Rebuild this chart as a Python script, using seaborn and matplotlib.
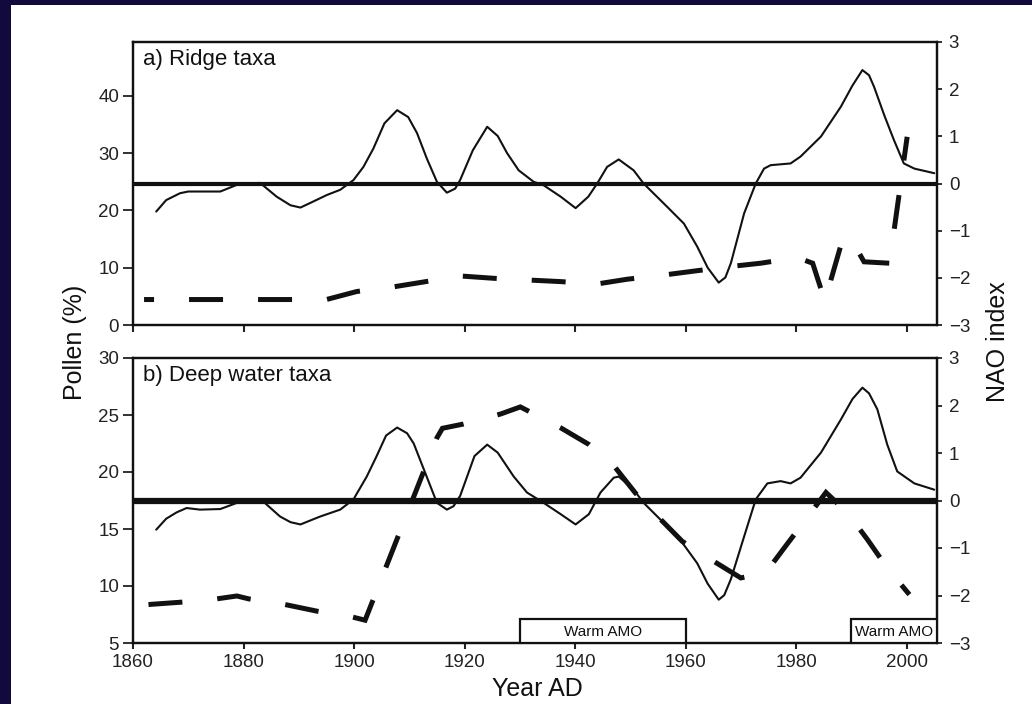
import matplotlib
matplotlib.use("Agg")
import matplotlib.pyplot as plt
from matplotlib.patches import Rectangle
import seaborn as sns

# a) Ridge taxa, pollen %
ridge_years = [1864.2, 1866, 1868.5, 1870, 1875.8, 1879.4, 1883, 1886, 1888.5, 1890.3,
               1892.5, 1895.1, 1897.5, 1899.9, 1901.7, 1903.5, 1905.5, 1907.8, 1909.8, 1911.4,
               1913.2, 1915.0, 1916.8, 1918.3, 1919.2, 1921.5, 1924.1, 1926.0, 1927.7, 1929.8,
               1932.5, 1934.3, 1937.4, 1940.1, 1942.4, 1944.0, 1945.8, 1947.9, 1950.6, 1952.4,
               1956.7, 1959.7, 1962.1, 1964.0, 1966.0, 1967.2, 1968.2, 1970.6, 1972.7, 1974.2,
               1975.4, 1979.0, 1980.8, 1984.5, 1988.1, 1990.2, 1992.0, 1993.2, 1994.1, 1996.0,
               1997.7, 1999.5, 2001.4, 2005.0]
ridge_pollen = [19.8, 21.8, 23.0, 23.3, 23.3, 24.7, 24.8, 22.4, 20.9, 20.5,
                21.5, 22.7, 23.6, 25.3, 27.6, 30.8, 35.2, 37.5, 36.3, 33.5,
                29.0, 25.0, 23.1, 23.8, 25.3, 30.5, 34.6, 33.0, 30.0, 27.0,
                25.0, 24.4, 22.4, 20.4, 22.4, 24.7, 27.6, 28.9, 27.0, 24.7,
                20.6, 17.7, 13.7, 10.0, 7.4, 8.3, 10.8, 19.5, 24.7, 27.3,
                27.9, 28.2, 29.4, 32.9, 38.1, 41.8, 44.5, 43.6, 41.6, 36.5,
                32.3, 28.2, 27.3, 26.5]

# a) NAO index (dashed)
nao_a_years = [1862, 1895, 1900.5, 1907.2, 1913, 1919.2, 1925.3, 1937.4, 1944, 1949.4,
               1956.1, 1962, 1968.1, 1973.6, 1980.2, 1983, 1985.2, 1988.5, 1990.2, 1992.3,
               1996.9, 2000.1]
nao_a = [-2.46, -2.46, -2.29, -2.19, -2.08, -1.96, -2.01, -2.08, -2.13, -2.03,
         -1.94, -1.85, -1.76, -1.69, -1.57, -1.69, -2.49, -1.15, -1.23, -1.66,
         -1.69, 0.99]

# b) Deep water taxa, pollen %
deep_years = [1864.2, 1866, 1867.9, 1869.7, 1872.1, 1875.8, 1879.4, 1883.6, 1886.6, 1888.5,
              1890.3, 1893.9, 1897.5, 1899.9, 1902.3, 1904, 1905.8, 1907.8, 1909.6, 1910.8,
              1912.9, 1915.0, 1916.8, 1918, 1919.2, 1921.8, 1924.1, 1926, 1928.9, 1931.3,
              1934.3, 1937.4, 1940.1, 1942.5, 1944.6, 1947, 1947.9, 1950.6, 1952.4, 1955.5,
              1959.4, 1962.1, 1964, 1966, 1967, 1968.2, 1970.6, 1972.7, 1974.8, 1977.2,
              1979, 1980.8, 1984.5, 1988.1, 1990.2, 1992, 1993.2, 1994.7, 1996.5, 1998.3,
              2001.4, 2005]
deep_pollen = [14.94, 15.9, 16.46, 16.84, 16.7, 16.75, 17.4, 17.4, 16.1, 15.6,
               15.4, 16.1, 16.7, 17.6, 19.6, 21.3, 23.2, 23.9, 23.4, 22.5,
               19.9, 17.3, 16.7, 17.0, 17.9, 21.4, 22.4, 21.7, 19.6, 18.2,
               17.3, 16.3, 15.4, 16.3, 18.2, 19.5, 19.6, 18.45, 17.3, 15.8,
               13.8, 12.0, 10.2, 8.8, 9.2, 10.6, 14.35, 17.6, 19.0, 19.2,
               19.0, 19.5, 21.7, 24.6, 26.4, 27.4, 26.9, 25.5, 22.4, 20.05,
               19.0, 18.45]

# b) NAO index (dashed)
nao_b_years = [1862.8, 1868.8, 1875.2, 1878.8, 1880.9, 1887.5, 1893.3, 1899.6, 1902, 1915,
               1916, 1919.8, 1926.5, 1930.1, 1931.6, 1937.4, 1942.5, 1947.3, 1950.9, 1955.5,
               1959.4, 1965.1, 1970, 1974.5, 1978.1, 1982, 1985.4, 1989.3, 1992.9, 1996.5,
               2000.5]
nao_b = [-2.19, -2.14, -2.07, -2.01, -2.07, -2.19, -2.33, -2.45, -2.52, 1.32,
         1.52, 1.61, 1.82, 1.97, 1.88, 1.53, 1.18, 0.69, 0.16, -0.40,
         -0.86, -1.28, -1.63, -1.52, -0.96, -0.36, 0.17, -0.26, -0.82, -1.42,
         -1.98]

# warm AMO phases
amo_start = [1930, 1990]
amo_end = [1960, 2005.5]
amo_label = "Warm AMO"

x_ticks = [1860, 1880, 1900, 1920, 1940, 1960, 1980, 2000]
nao_ticks = [-3, -2, -1, 0, 1, 2, 3]

sns.set_theme(style="ticks")
plt.rcParams['font.family'] = ['Liberation Sans', 'DejaVu Sans']
plt.rcParams['axes.linewidth'] = 1.5

BG = '#120a3c'
fig = plt.figure(figsize=(10.32, 7.04), dpi=100, facecolor=BG)
fig.patches.append(Rectangle((11 / 1032, 0), 1, 1 - 5 / 704, transform=fig.transFigure,
                             facecolor='white', edgecolor='none', zorder=-10))

W, H = 1032, 704
def axes_rect(left, top, right, bottom):
    return [left / W, 1 - bottom / H, (right - left) / W, (bottom - top) / H]

ax_a = fig.add_axes(axes_rect(133, 42, 937, 325))
ax_b = fig.add_axes(axes_rect(133, 358, 937, 643))

panels = [
    (ax_a, ridge_years, ridge_pollen, nao_a_years, nao_a, (0, 49.4), [0, 10, 20, 30, 40],
     "a) Ridge taxa", 3.0, 4.8),
    (ax_b, deep_years, deep_pollen, nao_b_years, nao_b, (5, 30), [5, 10, 15, 20, 25, 30],
     "b) Deep water taxa", 4.5, 0),
]

for ax, yrs, pol, nyrs, nao, ylim, yticks, title, zero_lw, dash_off in panels:
    ax.set_facecolor('none')
    sns.lineplot(x=yrs, y=pol, ax=ax, color='#111111', lw=1.5,
                 solid_joinstyle='round', solid_capstyle='round')
    ax.set_xlim(1860, 2005.5)
    ax.set_ylim(*ylim)
    ax.set_yticks(yticks)
    ax.set_xticks(x_ticks)
    ax.tick_params(axis='y', direction='out', length=7, width=1.3, labelsize=13.5,
                   pad=3, colors='#222222')
    ax.tick_params(axis='x', direction='out', length=4, width=1.5, labelsize=13.5,
                   pad=4, colors='#222222')
    ax.text(0.012, 0.975, title, transform=ax.transAxes, ha='left', va='top',
            fontsize=16, color='#111111')

    axr = ax.twinx()
    axr.axhline(0, color='#111111', lw=zero_lw)
    sns.lineplot(x=nyrs, y=nao, ax=axr, color='#111111', lw=3.6,
                 linestyle=(dash_off, (6.8, 7.0)), dash_joinstyle='miter')
    axr.set_ylim(-3, 3)
    axr.set_yticks(nao_ticks)
    axr.tick_params(axis='y', direction='out', length=3.5, width=1.3, labelsize=13.5,
                    pad=5, colors='#222222')
    for a in (ax, axr):
        for sp in a.spines.values():
            sp.set_color('#111111')
            sp.set_linewidth(1.6)

    if ax is ax_b:
        for s, e in zip(amo_start, amo_end):
            axr.add_patch(Rectangle((s, -3), e - s, 0.5, facecolor='white',
                                    edgecolor='#111111', lw=1.6, zorder=5))
            axr.text((s + e) / 2, -2.76, amo_label, ha='center', va='center',
                     fontsize=11, color='#111111', zorder=6)

ax_a.tick_params(axis='x', labelbottom=False, length=5)

fig.text(75 / W, 1 - 342 / H, "Pollen (%)", rotation=90, ha='center', va='center',
         fontsize=18, color='#111111')
fig.text(998 / W, 1 - 342 / H, "NAO index", rotation=90, ha='center', va='center',
         fontsize=18, color='#111111')
fig.text(537 / W, 1 - 689 / H, "Year AD", ha='center', va='center',
         fontsize=18, color='#111111')

fig.savefig("out.png", dpi=100, facecolor=BG)
